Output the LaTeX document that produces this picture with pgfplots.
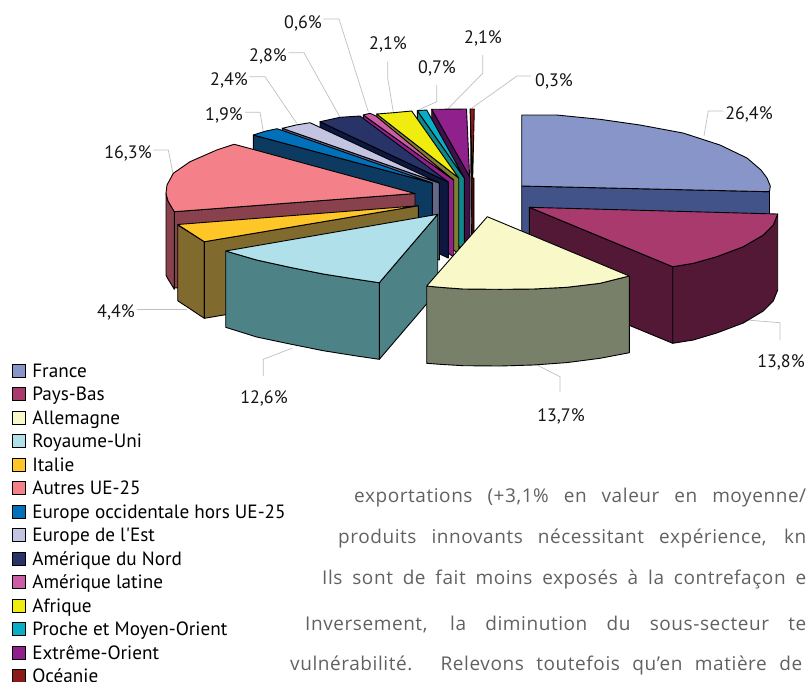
\documentclass[border=0pt]{standalone}
\usepackage{pgfplots}
\pgfplotsset{compat=1.18}
\usepackage{fontspec}
\setmainfont{PT Sans}
\newfontfamily\plainf{PT Sans}
\newfontfamily\bodyf[LetterSpace=3]{Open Sans}
\definecolor{lead}{HTML}{BFBFBF}
\definecolor{frT}{HTML}{8895C8}\definecolor{frS}{HTML}{415388}
\definecolor{pbT}{HTML}{A83A6E}\definecolor{pbS}{HTML}{521836}
\definecolor{alT}{HTML}{F8F8C8}\definecolor{alS}{HTML}{78806A}
\definecolor{ruT}{HTML}{B0E0EA}\definecolor{ruS}{HTML}{4D8286}
\definecolor{itT}{HTML}{FFC627}\definecolor{itS}{HTML}{806A2D}
\definecolor{auT}{HTML}{F4808A}\definecolor{auS}{HTML}{88414D}
\definecolor{ocT}{HTML}{0070BA}\definecolor{ocS}{HTML}{0C3A60}
\definecolor{esT}{HTML}{C2C4E2}\definecolor{esS}{HTML}{62698A}
\definecolor{anT}{HTML}{283468}\definecolor{anS}{HTML}{0C1840}
\definecolor{alaT}{HTML}{CC5CA4}\definecolor{alaS}{HTML}{90208C}
\definecolor{afT}{HTML}{F0EC10}\definecolor{afS}{HTML}{7E8030}
\definecolor{prT}{HTML}{08AEC6}\definecolor{prS}{HTML}{0E8888}
\definecolor{exT}{HTML}{90208C}\definecolor{exS}{HTML}{40104C}
\definecolor{ocaT}{HTML}{8C1818}\definecolor{ocaS}{HTML}{400808}
\pgfplotsset{
  poly/.style={fill=#1,draw=black,line width=0.9pt,line join=round,forget plot},
  leader/.style={draw=lead,line width=0.7pt,forget plot}
}
\begin{document}
\begin{tikzpicture}
\useasboundingbox (0,0) rectangle (806pt,-681pt);
\begin{axis}[
  at={(0,0)},anchor=north west,
  x=1pt,y=1pt,y dir=reverse,
  xmin=0,xmax=806,ymin=0,ymax=681,
  hide axis,clip=false,
  legend cell align=left,
  legend image code/.code={\draw[#1,line width=0.8pt] (0pt,-6.5pt) rectangle (13pt,6.5pt);},
  legend style={at={(axis cs:12,363.8)},anchor=north west,draw=none,fill=none,inner sep=0pt,outer sep=0pt,
    row sep=9.7pt,
    nodes={inner sep=0pt,text height=13pt,text depth=0.3pt,anchor=west,font=\fontsize{19.2}{20}\selectfont},
    /tikz/every odd column/.append style={column sep=6.5pt}},
]
\addlegendimage{fill=frT,draw=black}\addlegendentry{France}
\addlegendimage{fill=pbT,draw=black}\addlegendentry{Pays-Bas}
\addlegendimage{fill=alT,draw=black}\addlegendentry{Allemagne}
\addlegendimage{fill=ruT,draw=black}\addlegendentry{Royaume-Uni}
\addlegendimage{fill=itT,draw=black}\addlegendentry{Italie}
\addlegendimage{fill=auT,draw=black}\addlegendentry{Autres UE-25}
\addlegendimage{fill=ocT,draw=black}\addlegendentry{Europe occidentale hors UE-25}
\addlegendimage{fill=esT,draw=black}\addlegendentry{{\plainf Europe de l'Est}}
\addlegendimage{fill=anT,draw=black}\addlegendentry{Amérique du Nord}
\addlegendimage{fill=alaT,draw=black}\addlegendentry{Amérique latine}
\addlegendimage{fill=afT,draw=black}\addlegendentry{Afrique}
\addlegendimage{fill=prT,draw=black}\addlegendentry{Proche et Moyen-Orient}
\addlegendimage{fill=exT,draw=black}\addlegendentry{Extrême-Orient}
\addlegendimage{fill=ocaT,draw=black}\addlegendentry{Océanie}

% leader lines
\addplot[leader] coordinates {(323.3,19)(339,19)(368.3,111.7)};
\addplot[leader] coordinates {(288.3,52.7)(304,52.7)(340,117.3)};
\addplot[leader] coordinates {(249.3,76.7)(265,76.7)(296.7,123.3)};
\addplot[leader] coordinates {(245,112.3)(260,112.3)(263.3,131.7)};
\addplot[leader] coordinates {(387.7,61.7)(387.7,78.3)(393.3,111.7)};
\addplot[leader] coordinates {(436.7,85)(436.7,101.7)(418.3,110)};
\addplot[leader] coordinates {(482.7,55)(482.7,73.3)(448.3,108.3)};
\addplot[leader] coordinates {(531,76)(517,76)(472,108)};
\addplot[leader] coordinates {(723.3,111)(708.3,111)(704,135.7)};
\addplot[leader] coordinates {(746.7,320)(780,322.7)(780,340)};
\addplot[leader] coordinates {(535,364)(560,376.7)(560,392)};
\addplot[leader] coordinates {(291.7,348.3)(263.3,359.3)(263.3,376)};
\addplot[leader] coordinates {(136.7,309)(186.7,309)};
\addplot[leader] coordinates {(153.3,150)(168.3,150)(173.3,175)};

% Oceanie
\addplot[poly=ocaS] coordinates {(470.5,109)(472.5,178)(474,178)(474,254)(471.5,254)} --cycle;
\addplot[poly=ocaT] coordinates {(470,109)(474.3,109)(472.7,178)} --cycle;
% Extreme-Orient
\addplot[poly=exS] coordinates {(431.7,109.3)(470,177)(470,253)(431.7,186)} --cycle;
\addplot[poly=exT] coordinates {(431.7,109.3)(466.5,109)(469.6,176.5)} --cycle;
% Proche
\addplot[poly=prS] coordinates {(417.3,110.7)(464.3,178)(464.3,254)(417.3,187)} --cycle;
\addplot[poly=prT] coordinates {(417.3,110.7)(426.7,110)(464.3,178)} --cycle;
% Afrique
\addplot[poly=afS] coordinates {(376.7,114)(458.7,178)(458.7,254)(376.7,190)} --cycle;
\addplot[poly=afT] coordinates {(376.7,114)(393.3,112.7)(411.7,111)(458.7,178)} --cycle;
% Am latine
\addplot[poly=alaS] coordinates {(363.3,115)(453.7,180)(453.7,257)(363.3,192)} --cycle;
\addplot[poly=alaT] coordinates {(363.3,115)(370,113.3)(376,116)(453.7,180)} --cycle;
% Am Nord
\addplot[poly=anS] coordinates {(320,121.7)(448.3,182)(448.3,258)(320,198)} --cycle;
\addplot[poly=anT] coordinates {(320,121.7)(340,117.3)(360,116)(448.3,182)} --cycle;
% Est
\addplot[poly=esS] coordinates {(282.3,128.3)(439.3,183)(439.3,260)(282.3,205)} --cycle;
\addplot[poly=esT] coordinates {(282.3,128.3)(296,125)(310,122.7)(439.3,183)} --cycle;
% Europe occ
\addplot[poly=ocS] coordinates {(253.3,135)(432.3,183)(432.3,260)(253.3,212)} --cycle;
\addplot[poly=ocT] coordinates {(253.3,135)(266,131)(277,128.7)(284,131)(432.3,183)} --cycle;
% Autres UE
\addplot[poly=auS] coordinates {(174.3,211.7)(415,193.5)(415,270)(174.3,288)} --cycle;
\addplot[poly=auS] coordinates {(166,193.3)(168,201)(174.3,211.7)(174.3,289.3)(168,279)(166,275)} --cycle;
\addplot[poly=auT] coordinates {(415,193.5)(174.3,211.7)(168,201)(166,193.3)(167,185)(173.3,173.3)(190,161.7)(216.7,150)(234,144.3)(237,145)} --cycle;
% Italie
\addplot[poly=itS] coordinates {(177.7,225)(204.3,241.7)(204.3,318.3)(177.7,300.7)} --cycle;
\addplot[poly=itS] coordinates {(418.3,205.7)(204.3,241.7)(204.3,318.3)(418.3,282)} --cycle;
\addplot[poly=itT] coordinates {(418.3,205.7)(177.7,224.5)(204.3,241.7)} --cycle;
% Royaume-Uni
\addplot[poly=ruS] coordinates {(437.7,214.3)(379.3,282.7)(379.3,359.3)(437.7,291)} --cycle;
\addplot[poly=ruS] coordinates {(225.7,251)(256.7,260)(290,267.3)(323.3,274)(356.7,279.3)(379.3,282.7)(379.3,359.3)(356.7,356)(323.3,350.7)(290,344)(256.7,337)(225.7,327.3)} --cycle;
\addplot[poly=ruT] coordinates {(437.7,214.3)(225.7,251)(256.7,260)(290,267.3)(323.3,274)(356.7,279.3)(379.3,282.7)} --cycle;
% France
\addplot[poly=frS] coordinates {(521.7,186)(769.5,191.7)(769.5,268)(521.7,263)} --cycle;
\addplot[poly=frT] coordinates {(521.7,115)(556.7,115)(600,119.3)(640,125)(683,133)(720,145)(747,158)(761,170)(767,178)(770.3,186)(769.5,191.7)(521.7,186)} --cycle;
% Pays-Bas
\addplot[poly=pbS] coordinates {(529.3,207.3)(672.7,266.7)(672.7,343.3)(529.3,284)} --cycle;
\addplot[poly=pbS] coordinates {(672.7,266.7)(693.3,263.3)(716.7,256.7)(743.3,246.7)(763.3,235)(773.3,225)(777.7,214)(777.7,290)(773.3,301)(763.3,311)(743.3,323)(716.7,333)(693.3,340)(672.7,343.3)} --cycle;
\addplot[poly=pbT] coordinates {(529.3,207.3)(777.7,214)(773.3,225)(763.3,235)(743.3,246.7)(716.7,256.7)(693.3,263.3)(672.7,266.7)} --cycle;
% Allemagne
\addplot[poly=alS] coordinates {(426.7,286)(440,287.3)(463.3,289)(500,289.3)(533.3,289)(566.7,287.3)(600,283.3)(629.3,276)(629.3,352.7)(600,358.3)(566.7,362.6)(533.3,365)(500,366)(463.3,365.7)(440,364.3)(426.7,363.3)} --cycle;
\addplot[poly=alT] coordinates {(487.3,216.7)(629.3,276)(600,283.3)(566.7,287.3)(533.3,289)(500,289.3)(463.3,289)(440,287.3)(426.7,286)} --cycle;

% labels
\begin{scope}[every node/.style={font=\fontsize{18}{20}\selectfont,inner sep=0pt,text=black!92}]
\node at (axis cs:303,23.5) {0,6\%};
\node at (axis cs:268,56.5) {2,8\%};
\node at (axis cs:229,80.5) {2,4\%};
\node at (axis cs:224,115.5) {1,9\%};
\node at (axis cs:388,44.5) {2,1\%};
\node at (axis cs:437,68.5) {0,7\%};
\node at (axis cs:483,38.5) {2,1\%};
\node at (axis cs:554,81.5) {0,3\%};
\node at (axis cs:749,114.5) {26,4\%};
\node at (axis cs:781,362.5) {13,8\%};
\node at (axis cs:561,416.5) {13,7\%};
\node at (axis cs:264,398.5) {12,6\%};
\node at (axis cs:116,312.5) {4,4\%};
\node at (axis cs:128,153.5) {16,3\%};
\end{scope}
% page text
\begin{scope}[every node/.style={font=\bodyf\fontsize{19}{21}\selectfont,inner sep=0pt,anchor=base west,text=black!62}]
\node at (axis cs:354,502) {\makebox[452pt][s]{exportations (+3,1\% en valeur en moyenne/}};
\node at (axis cs:338,543) {\makebox[468pt][s]{produits innovants nécessitant expérience, kn}};
\node at (axis cs:322,584) {\makebox[484pt][s]{Ils sont de fait moins exposés à la contrefaçon e}};
\node at (axis cs:305,630) {\makebox[501pt][s]{Inversement, la diminution du sous-secteur te}};
\node at (axis cs:290,670) {\makebox[512pt][s]{vulnérabilité. Relevons toutefois qu’en matière de}};
\end{scope}
\end{axis}
\end{tikzpicture}
\end{document}
